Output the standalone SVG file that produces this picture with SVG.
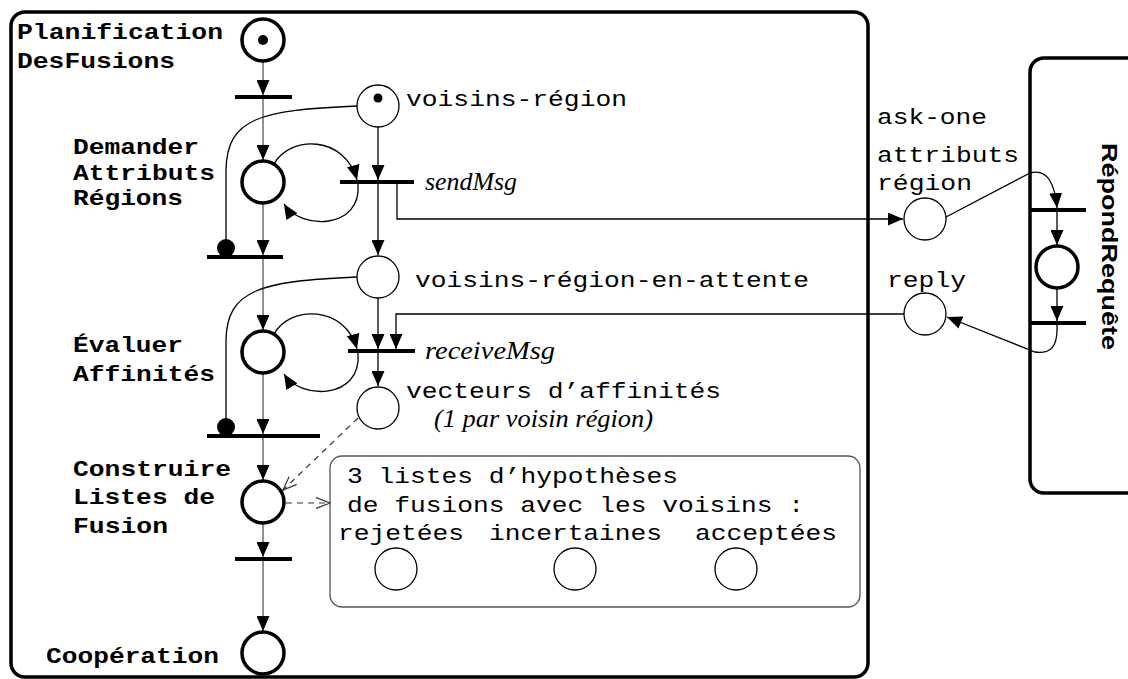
<svg xmlns="http://www.w3.org/2000/svg" width="1128" height="679" viewBox="0 0 1128 679">
<style>
.mono{font-family:"Liberation Mono","DejaVu Sans Mono",monospace;font-size:22px;fill:#000}
.b{font-weight:bold}
.it{font-family:"Liberation Serif","DejaVu Serif",serif;font-style:italic;font-size:25px;fill:#000}
.sans{font-family:"Liberation Sans",Arial,sans-serif;font-weight:bold;font-size:22px;fill:#000}
.pl{fill:#fff;stroke:#000;stroke-width:1.3}
.pb{fill:#fff;stroke:#000;stroke-width:3.5}
.tr{stroke:#000;stroke-width:4}
.gray{fill:none;stroke:#777;stroke-width:1.6}
.arc{fill:none;stroke:#000;stroke-width:1.3}
.dash{fill:none;stroke:#333;stroke-width:1.2;stroke-dasharray:6 5}
.frame{fill:none;stroke:#000;stroke-width:3.5}
</style>
<defs>
<marker id="arr" markerWidth="15" markerHeight="13" refX="15" refY="6.5" orient="auto" markerUnits="userSpaceOnUse"><path d="M0,0 L15,6.5 L0,13 z" fill="#000"/></marker>
<marker id="open" markerWidth="15" markerHeight="12" refX="14" refY="6" orient="auto" markerUnits="userSpaceOnUse"><path d="M0,0.5 L14,6 L0,11.5" fill="none" stroke="#333" stroke-width="1.2"/></marker>
</defs>

<g id="frames">
<rect x="11" y="12" width="857" height="665" rx="14" class="frame"/>
<rect x="1030" y="58" width="130" height="435" rx="14" class="frame"/>
<rect x="330" y="456" width="530" height="151" rx="12" fill="none" stroke="#555" stroke-width="1.3"/>
</g>

<g id="connectors">
<path class="gray" d="M263,61 L263,95" marker-end="url(#arr)"/>
<path class="gray" d="M263,99 L263,160" marker-end="url(#arr)"/>
<path class="gray" d="M263,204 L263,255" marker-end="url(#arr)"/>
<path class="gray" d="M263,259 L263,330" marker-end="url(#arr)"/>
<path class="gray" d="M263,374 L263,434" marker-end="url(#arr)"/>
<path class="gray" d="M263,438 L263,480" marker-end="url(#arr)"/>
<path class="gray" d="M263,524 L263,557" marker-end="url(#arr)"/>
<path class="gray" d="M263,561 L263,631" marker-end="url(#arr)"/>
<path class="arc" d="M378,127 L378,180" marker-end="url(#arr)"/>
<path class="arc" d="M378,184 L378,255" marker-end="url(#arr)"/>
<path class="arc" d="M378,298 L378,349" marker-end="url(#arr)"/>
<path class="arc" d="M378,353 L378,386" marker-end="url(#arr)"/>
<path class="arc" d="M274,164 C290,135 345,135 357,180" marker-end="url(#arr)"/>
<path class="arc" d="M358,184 C362,230 300,230 284,204" marker-end="url(#arr)"/>
<path class="arc" d="M274,334 C290,305 345,305 357,349" marker-end="url(#arr)"/>
<path class="arc" d="M358,353 C362,400 300,400 284,374" marker-end="url(#arr)"/>
<path class="arc" d="M357,106 C260,110 227,118 226,170 L226,240"/>
<circle cx="226" cy="248" r="9" fill="#000"/>
<path class="arc" d="M357,277 C260,281 227,290 226,340 L226,419"/>
<circle cx="226" cy="427" r="9" fill="#000"/>
<path class="arc" d="M397,182 L397,219 L903,219" marker-end="url(#arr)"/>
<path class="arc" d="M904,314 L396,314 L396,349" marker-end="url(#arr)"/>
<path class="dash" d="M358,418 L283,490" marker-end="url(#open)"/>
<path class="dash" d="M286,503 L330,503" marker-end="url(#open)"/>
<path class="arc" d="M946,217 L1030,173 C1048,168 1055,185 1057,208" marker-end="url(#arr)"/>
<path class="arc" d="M1057,212 L1057,245" marker-end="url(#arr)"/>
<path class="arc" d="M1057,289 L1057,321" marker-end="url(#arr)"/>
<path class="arc" d="M1057,325 C1058,348 1050,354 1035,352 L947,317" marker-end="url(#arr)"/>
</g>

<g id="planification">
<circle cx="263" cy="40" r="21" class="pb"/>
<circle cx="263" cy="40" r="5" fill="#000"/>
<text class="mono b" x="17" y="39" textLength="206" lengthAdjust="spacingAndGlyphs">Planification</text>
<text class="mono b" x="17" y="68" textLength="158" lengthAdjust="spacingAndGlyphs">DesFusions</text>
</g>
<g id="t1"><line x1="235" y1="97" x2="292" y2="97" class="tr"/></g>
<g id="demander">
<circle cx="263" cy="182" r="21" class="pb"/>
<text class="mono b" x="73" y="154" textLength="126" lengthAdjust="spacingAndGlyphs">Demander</text>
<text class="mono b" x="73" y="180" textLength="142" lengthAdjust="spacingAndGlyphs">Attributs</text>
<text class="mono b" x="73" y="205" textLength="110" lengthAdjust="spacingAndGlyphs">Régions</text>
</g>
<g id="t2"><line x1="207" y1="257" x2="283" y2="257" class="tr"/></g>
<g id="voisins-region">
<circle cx="378" cy="106" r="21" class="pl"/>
<circle cx="378" cy="98" r="4.5" fill="#000"/>
<text class="mono" x="406" y="106" textLength="221" lengthAdjust="spacingAndGlyphs">voisins-région</text>
</g>
<g id="sendMsg">
<line x1="340" y1="182" x2="414" y2="182" class="tr"/>
<text class="it" x="425" y="190" textLength="92" lengthAdjust="spacingAndGlyphs">sendMsg</text>
</g>
<g id="voisins-attente">
<circle cx="378" cy="277" r="21" class="pl"/>
<text class="mono" x="415" y="287" textLength="394" lengthAdjust="spacingAndGlyphs">voisins-région-en-attente</text>
</g>
<g id="evaluer">
<circle cx="263" cy="352" r="21" class="pb"/>
<text class="mono b" x="73" y="352" textLength="110" lengthAdjust="spacingAndGlyphs">Évaluer</text>
<text class="mono b" x="73" y="381" textLength="142" lengthAdjust="spacingAndGlyphs">Affinités</text>
</g>
<g id="receiveMsg">
<line x1="348" y1="351" x2="415" y2="351" class="tr"/>
<text class="it" x="425" y="359" textLength="130" lengthAdjust="spacingAndGlyphs">receiveMsg</text>
</g>
<g id="vecteurs">
<circle cx="378" cy="408" r="21" class="pl"/>
<text class="mono" x="406" y="398" textLength="315" lengthAdjust="spacingAndGlyphs">vecteurs d’affinités</text>
<text class="it" x="434" y="427" textLength="219" lengthAdjust="spacingAndGlyphs">(1 par voisin région)</text>
</g>
<g id="t3"><line x1="207" y1="436" x2="320" y2="436" class="tr"/></g>
<g id="construire">
<circle cx="263" cy="502" r="21" class="pb"/>
<text class="mono b" x="73" y="476" textLength="158" lengthAdjust="spacingAndGlyphs">Construire</text>
<text class="mono b" x="73" y="504" textLength="142" lengthAdjust="spacingAndGlyphs">Listes de</text>
<text class="mono b" x="73" y="533" textLength="95" lengthAdjust="spacingAndGlyphs">Fusion</text>
</g>
<g id="listes">
<text class="mono" x="347" y="483" textLength="331" lengthAdjust="spacingAndGlyphs">3 listes d’hypothèses</text>
<text class="mono" x="347" y="512" textLength="457" lengthAdjust="spacingAndGlyphs">de fusions avec les voisins :</text>
<text class="mono" x="338" y="540" textLength="126" lengthAdjust="spacingAndGlyphs">rejetées</text>
<text class="mono" x="489" y="540" textLength="173" lengthAdjust="spacingAndGlyphs">incertaines</text>
<text class="mono" x="695" y="540" textLength="142" lengthAdjust="spacingAndGlyphs">acceptées</text>
<circle cx="396" cy="569" r="21" class="pl"/>
<circle cx="575" cy="569" r="21" class="pl"/>
<circle cx="736" cy="569" r="21" class="pl"/>
</g>
<g id="t4"><line x1="235" y1="559" x2="292" y2="559" class="tr"/></g>
<g id="cooperation">
<circle cx="263" cy="653" r="21" class="pb"/>
<text class="mono b" x="46" y="663" textLength="173" lengthAdjust="spacingAndGlyphs">Coopération</text>
</g>
<g id="attributs-region">
<circle cx="925" cy="219" r="21" class="pl"/>
<text class="mono" x="877" y="124" textLength="110" lengthAdjust="spacingAndGlyphs">ask-one</text>
<text class="mono" x="877" y="162" textLength="142" lengthAdjust="spacingAndGlyphs">attributs</text>
<text class="mono" x="877" y="190" textLength="95" lengthAdjust="spacingAndGlyphs">région</text>
</g>
<g id="reply">
<circle cx="925" cy="314" r="21" class="pl"/>
<text class="mono" x="887" y="287" textLength="79" lengthAdjust="spacingAndGlyphs">reply</text>
</g>
<g id="repond-requete">
<line x1="1030" y1="210" x2="1086" y2="210" class="tr"/>
<circle cx="1057" cy="267" r="21" class="pb"/>
<line x1="1030" y1="323" x2="1086" y2="323" class="tr"/>
<text class="sans" transform="translate(1102,143) rotate(90)" textLength="207" lengthAdjust="spacingAndGlyphs">RépondRequête</text>
</g>
</svg>
